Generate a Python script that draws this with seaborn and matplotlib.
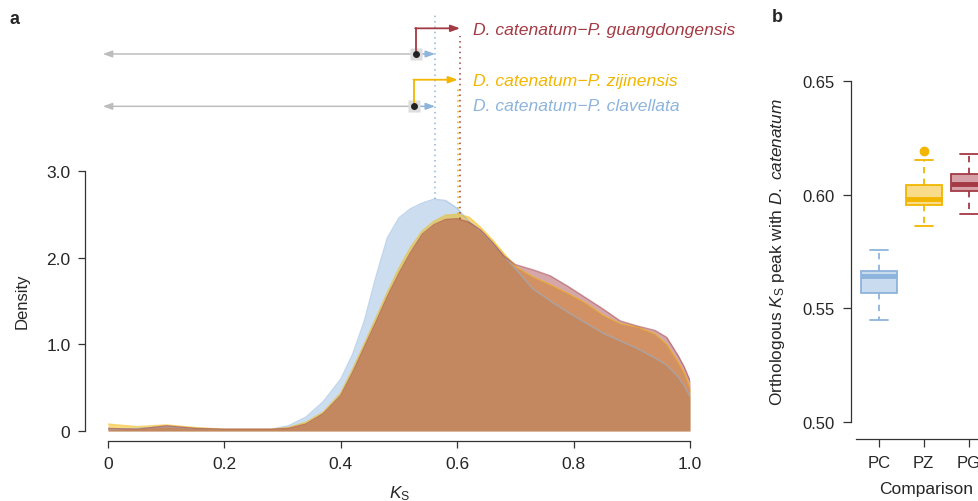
import numpy as np
import pandas as pd
import matplotlib
matplotlib.use('Agg')
import matplotlib.pyplot as plt
import seaborn as sns

# ---- panel a: Ks density curves ----
ks = [0.0, 0.05, 0.10, 0.15, 0.20, 0.25, 0.28, 0.31, 0.34, 0.37, 0.40, 0.42, 0.44, 0.46,
      0.48, 0.50, 0.52, 0.54, 0.56, 0.58, 0.60, 0.62, 0.64, 0.66, 0.68, 0.70, 0.73, 0.76,
      0.79, 0.82, 0.85, 0.88, 0.91, 0.94, 0.96, 0.98, 0.99, 1.0]
dens_clavellata = [0.02, 0.03, 0.05, 0.03, 0.02, 0.02, 0.02, 0.06, 0.16, 0.34, 0.60, 0.88, 1.26, 1.77,
                   2.23, 2.46, 2.565, 2.63, 2.675, 2.66, 2.57, 2.42, 2.31, 2.17, 2.02, 1.87, 1.64, 1.50,
                   1.37, 1.25, 1.13, 1.04, 0.95, 0.84, 0.76, 0.62, 0.52, 0.40]
dens_zijinensis = [0.08, 0.05, 0.07, 0.04, 0.02, 0.02, 0.02, 0.04, 0.10, 0.22, 0.44, 0.71, 1.00, 1.30,
                   1.60, 1.88, 2.12, 2.31, 2.42, 2.49, 2.50, 2.47, 2.35, 2.21, 2.05, 1.90, 1.78, 1.69,
                   1.59, 1.48, 1.34, 1.24, 1.20, 1.12, 1.00, 0.79, 0.67, 0.50]
dens_guangdong = [0.03, 0.02, 0.06, 0.03, 0.02, 0.02, 0.02, 0.03, 0.08, 0.20, 0.41, 0.67, 0.96, 1.25,
                  1.55, 1.82, 2.06, 2.27, 2.38, 2.44, 2.45, 2.41, 2.32, 2.18, 2.02, 1.92, 1.86, 1.79,
                  1.67, 1.54, 1.41, 1.27, 1.21, 1.16, 1.08, 0.865, 0.74, 0.58]

comparisons = ['D. catenatum\u2212P. clavellata', 'D. catenatum\u2212P. zijinensis',
               'D. catenatum\u2212P. guangdongensis']
peak_ks = [0.562, 0.601, 0.605]
ci_low = [-0.009, -0.009]
ci_point = [0.526, 0.529]
ci_high = [0.562, 0.562]

# ---- panel b: orthologous Ks peaks ----
box_labels = ['PC', 'PZ', 'PG']
box_whislo = [0.5450, 0.5863, 0.5915]
box_q1 = [0.5568, 0.5956, 0.6017]
box_med = [0.5641, 0.5981, 0.6045]
box_q3 = [0.5666, 0.6043, 0.6090]
box_whishi = [0.5758, 0.6152, 0.6178]
box_fliers = [[], [0.6190], []]

blue, yellow, red = '#8db4dc', '#f2b600', '#a33a44'
colors = [blue, yellow, red]
fills = ['#c9dbee', '#f8dc8a', '#d6a2a8']

sns.set_style('white')
plt.rcParams['font.family'] = ['Liberation Sans', 'DejaVu Sans']
plt.rcParams['mathtext.fontset'] = 'custom'
plt.rcParams['mathtext.rm'] = 'Liberation Sans'
plt.rcParams['mathtext.it'] = 'Liberation Sans:italic'
axis_col = '#333333'

fig = plt.figure(figsize=(9.79, 5.02), dpi=100)
W, H = 979, 502

# panel a
ymax = 4.95
axA = fig.add_axes([108 / W, 70 / H, 582 / W, ymax * 86.67 / H])
df = pd.DataFrame({'ks': ks * 3,
                   'density': dens_clavellata + dens_zijinensis + dens_guangdong,
                   'pair': [comparisons[0]] * len(ks) + [comparisons[1]] * len(ks) + [comparisons[2]] * len(ks)})
for name, col, a in zip(comparisons, colors, [0.45, 0.5, 0.45]):
    sub = df[df.pair == name]
    axA.fill_between(sub.ks, 0, sub.density, color=col, alpha=a, lw=0)
sns.lineplot(data=df, x='ks', y='density', hue='pair', palette=dict(zip(comparisons, colors)),
             ax=axA, legend=False, lw=1, alpha=0.55)

axA.set_xlim(0, 1)
axA.set_ylim(0, ymax)
axA.set_xticks([0, 0.2, 0.4, 0.6, 0.8, 1.0])
axA.set_xticklabels(['0', '0.2', '0.4', '0.6', '0.8', '1.0'])
axA.set_yticks([0, 1, 2, 3])
axA.set_yticklabels(['0', '1.0', '2.0', '3.0'])
axA.set_xlabel('')
axA.set_ylabel('')
for s in ['top', 'right']:
    axA.spines[s].set_visible(False)
axA.spines['left'].set_position(('outward', 16.5))
axA.spines['bottom'].set_position(('outward', 7.2))
axA.spines['left'].set_bounds(0, 3)
axA.spines['bottom'].set_bounds(0, 1)
for s in ['left', 'bottom']:
    axA.spines[s].set_color(axis_col)
    axA.spines[s].set_linewidth(0.9)
axA.tick_params(axis='both', direction='out', length=5, width=0.9, color=axis_col,
                labelsize=12.5, pad=5.5, left=True, bottom=True)

# peak markers (dotted lines)
tops = [4.81, 3.98, 4.56]
bottoms = [2.68, 2.50, 2.45]
for p, t, b, col in zip(peak_ks, tops, bottoms, colors):
    axA.plot([p, p], [b, t], ls=(0, (1, 2.5)), color=col, lw=1.1, clip_on=False)

# interval arrows
ci_y = [3.746, 4.35]
elbow_y = [4.053, 4.646]
elbow_col = [yellow, red]
elbow_tip = [peak_ks[1], peak_ks[2]]
head = '-|>,head_length=0.55,head_width=0.2'
for lo, pt, hi, y, ey, ec, tip in zip(ci_low, ci_point, ci_high, ci_y, elbow_y, elbow_col, elbow_tip):
    axA.annotate('', xy=(lo, y), xytext=(pt, y), annotation_clip=False,
                 arrowprops=dict(arrowstyle=head, color='#bdbdbd', lw=1.1, shrinkA=0, shrinkB=0))
    axA.annotate('', xy=(hi, y), xytext=(pt, y), annotation_clip=False,
                 arrowprops=dict(arrowstyle=head, color=blue, lw=1.1, shrinkA=0, shrinkB=0))
    axA.plot([pt], [y], marker='s', ms=8, color='#dddddd', mec='none', clip_on=False, zorder=3)
    axA.plot([pt, pt], [y, ey], color=ec, lw=1.3, clip_on=False, zorder=4)
    axA.annotate('', xy=(tip, ey), xytext=(pt - 0.0012, ey), annotation_clip=False,
                 arrowprops=dict(arrowstyle=head, color=ec, lw=1.3, shrinkA=0, shrinkB=0))
    axA.plot([pt], [y], marker='o', ms=4, color='#222222', clip_on=False, zorder=5)

text_y = [3.75, 4.04, 4.63]
for name, col, ty in zip(comparisons, colors, text_y):
    axA.text(0.627, ty, name, color=col, fontsize=12.6, style='italic', va='center', ha='left',
             clip_on=False)

# panel b
axB = fig.add_axes([856.2 / W, 78.7 / H, 135 / W, 341.6 / H])
stats = []
for lab, lo, q1, md, q3, hi, fl in zip(box_labels, box_whislo, box_q1, box_med, box_q3,
                                        box_whishi, box_fliers):
    stats.append(dict(label=lab, whislo=lo, q1=q1, med=md, q3=q3, whishi=hi, fliers=fl))
bp = axB.bxp(stats, positions=[1, 2, 3], widths=0.8, capwidths=0.4, patch_artist=True,
             showfliers=True)
for i, col in enumerate(colors):
    bp['boxes'][i].set_facecolor(fills[i])
    bp['boxes'][i].set_edgecolor(col)
    bp['boxes'][i].set_linewidth(1.3)
    bp['medians'][i].set_color(col)
    bp['medians'][i].set_linewidth(3.5)
    for w in bp['whiskers'][2 * i:2 * i + 2]:
        w.set_color(col)
        w.set_linewidth(1.3)
        w.set_linestyle((0, (3.5, 3)))
    for c in bp['caps'][2 * i:2 * i + 2]:
        c.set_color(col)
        c.set_linewidth(1.3)
    bp['fliers'][i].set_marker('o')
    bp['fliers'][i].set_markerfacecolor(col)
    bp['fliers'][i].set_markeredgecolor(col)
    bp['fliers'][i].set_markersize(6)

axB.set_xlim(0.5, 3.5)
axB.set_ylim(0.5, 0.65)
axB.set_yticks([0.50, 0.55, 0.60, 0.65])
axB.set_yticklabels(['0.50', '0.55', '0.60', '0.65'])
axB.set_xticks([1, 2, 3])
axB.set_xticklabels(box_labels)
for s in ['top', 'right']:
    axB.spines[s].set_visible(False)
axB.spines['left'].set_position(('outward', 4))
axB.spines['bottom'].set_position(('outward', 12))
for s in ['left', 'bottom']:
    axB.spines[s].set_color(axis_col)
    axB.spines[s].set_linewidth(0.9)
axB.tick_params(axis='both', direction='out', length=5.5, width=0.9, color=axis_col,
                labelsize=12, pad=6, left=True, bottom=True)

# labels
fig.text(15 / W, 1 - 20 / H, 'a', fontsize=13, fontweight='bold', ha='center', va='center')
fig.text(777 / W, 1 - 18 / H, 'b', fontsize=13, fontweight='bold', ha='center', va='center')
fig.text(22 / W, 1 - 301 / H, 'Density', fontsize=12, rotation=90, ha='center', va='center')
fig.text(400 / W, 1 - 494 / H, r'$K_\mathrm{S}$', fontsize=12.5, ha='center', va='center')
fig.text(778 / W, 1 - 252 / H, r'Orthologous $K_\mathrm{S}$ peak with $\mathit{D.\ catenatum}$',
         fontsize=12.4, rotation=90, ha='center', va='center')
fig.text(926 / W, 1 - 490 / H, 'Comparison', fontsize=12.5, ha='center', va='center')

fig.savefig('out.png', dpi=100)
